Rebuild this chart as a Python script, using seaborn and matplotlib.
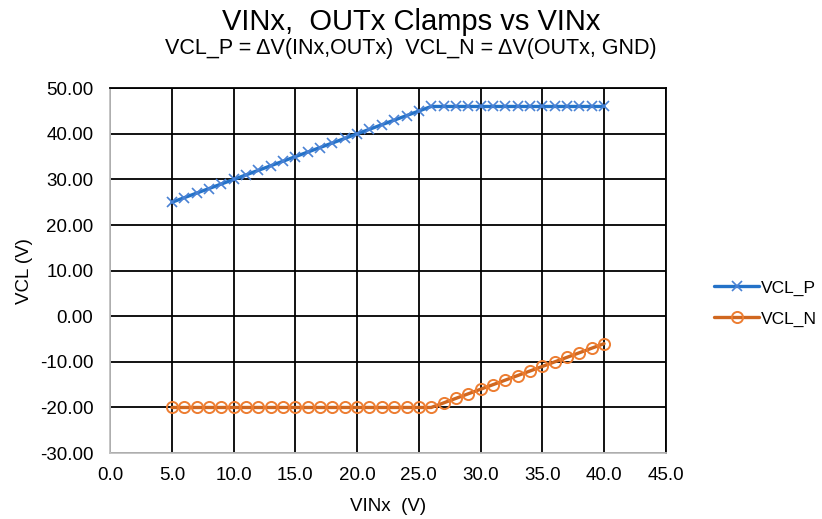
import numpy as np
import pandas as pd
import matplotlib
matplotlib.use('Agg')
import matplotlib.pyplot as plt
import seaborn as sns

vin = [5, 6, 7, 8, 9, 10, 11, 12, 13, 14, 15, 16, 17, 18, 19, 20, 21, 22,
       23, 24, 25, 26, 27, 28, 29, 30, 31, 32, 33, 34, 35, 36, 37, 38, 39, 40]
vcl_p = [25, 26, 27, 28, 29, 30, 31, 32, 33, 34, 35, 36, 37, 38, 39, 40, 41, 42,
         43, 44, 45, 46, 46, 46, 46, 46, 46, 46, 46, 46, 46, 46, 46, 46, 46, 46]
vcl_n = [-20, -20, -20, -20, -20, -20, -20, -20, -20, -20, -20, -20, -20, -20, -20, -20, -20, -20,
         -20, -20, -20, -20, -19, -18, -17, -16, -15, -14, -13, -12, -11, -10, -9, -8, -7, -6]

df = pd.DataFrame({'VINx': vin, 'VCL_P': vcl_p, 'VCL_N': vcl_n})

sns.set_style('white')
plt.rcParams['font.family'] = ['Liberation Sans', 'DejaVu Sans']
plt.rcParams['text.color'] = 'black'
plt.rcParams['axes.labelcolor'] = 'black'
plt.rcParams['xtick.color'] = 'black'
plt.rcParams['ytick.color'] = 'black'

fig = plt.figure(figsize=(8.22, 5.19), dpi=100)
ax = fig.add_axes([0.134, 0.127, 0.676, 0.703])

sns.lineplot(data=df, x='VINx', y='VCL_P', ax=ax, color='#2472C8', linewidth=2.4,
             marker='x', markersize=7, markeredgecolor='#4A82D4', markeredgewidth=1.2,
             label='VCL_P')
sns.lineplot(data=df, x='VINx', y='VCL_N', ax=ax, color='#D0671F', linewidth=2.4,
             marker='o', markersize=8, markerfacecolor='none', markeredgecolor='#ED7D31',
             markeredgewidth=1.4, label='VCL_N')

ax.set_xlim(0, 45)
ax.set_ylim(-30, 50)
ax.set_xticks(np.arange(0, 46, 5))
ax.set_yticks(np.arange(-30, 51, 10))
ax.set_xticklabels([f'{v:.1f}' for v in np.arange(0, 46, 5)], fontsize=13.5)
ax.set_yticklabels([f'{v:.2f}' for v in np.arange(-30, 51, 10)], fontsize=13.5)
ax.grid(True, color='black', linewidth=1.3)
ax.set_axisbelow(True)
for side in ['top', 'right']:
    ax.spines[side].set_color('black')
    ax.spines[side].set_linewidth(1.3)
for side in ['left', 'bottom']:
    ax.spines[side].set_color('#BFBFBF')
    ax.spines[side].set_linewidth(1.3)
ax.tick_params(axis='y', length=0, pad=12)
ax.tick_params(axis='x', length=0, pad=10)

ax.set_xlabel('VINx  (V)', fontsize=13.5, labelpad=10)
ax.set_ylabel('VCL (V)', fontsize=13.5, labelpad=5)

fig.text(0.5, 0.958, 'VINx,  OUTx Clamps vs VINx', ha='center', va='center', fontsize=21)
fig.text(0.5, 0.907, 'VCL_P = ΔV(INx,OUTx)  VCL_N = ΔV(OUTx, GND)', ha='center', va='center', fontsize=15.5)

ax.legend(loc='center left', bbox_to_anchor=(1.065, 0.41), frameon=False, fontsize=12.5,
          handlelength=2.6, handletextpad=0.1, labelspacing=0.9, borderpad=0.2)

fig.savefig('out.png', dpi=100)
